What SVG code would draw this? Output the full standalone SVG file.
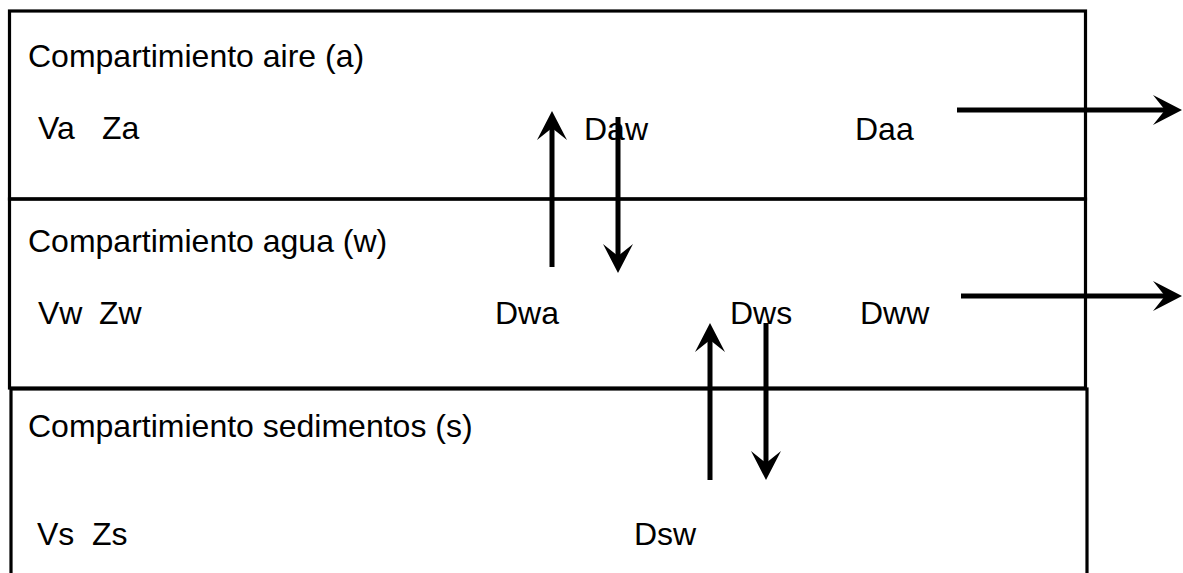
<svg xmlns="http://www.w3.org/2000/svg" width="1183" height="573" viewBox="0 0 1183 573">
  <style>
    .box { fill: none; stroke: #000; stroke-width: 3.2; }
    .lbl { font-family: "Liberation Sans", Arial, sans-serif; font-size: 32px; fill: #000; }
    .arr { stroke: #000; stroke-width: 5; fill: none; marker-end: url(#ah); }
  </style>
  <defs>
    <marker id="ah" markerUnits="userSpaceOnUse" markerWidth="40" markerHeight="40" viewBox="-20 -20 40 40" refX="0" refY="0" orient="auto" overflow="visible">
      <path d="M15,0 L-14,-15 L-2,0 L-14,15 Z" fill="#000"/>
    </marker>
  </defs>
  <rect width="1183" height="573" fill="#fff"/>

  <g id="air">
    <rect class="box" x="9.5" y="11" width="1076" height="188"/>
    <text class="lbl" x="28" y="67">Compartimiento aire (a)</text>
    <text class="lbl" x="38" y="139">Va</text>
    <text class="lbl" x="102" y="139">Za</text>
    <text class="lbl" x="584" y="140">Daw</text>
    <text class="lbl" x="855" y="140">Daa</text>
  </g>

  <g id="water">
    <rect class="box" x="9.5" y="199" width="1076" height="189"/>
    <text class="lbl" x="28" y="252">Compartimiento agua (w)</text>
    <text class="lbl" x="38" y="324">Vw</text>
    <text class="lbl" x="99" y="324">Zw</text>
    <text class="lbl" x="495" y="324">Dwa</text>
    <text class="lbl" x="730" y="324">Dws</text>
    <text class="lbl" x="860" y="324">Dww</text>
  </g>

  <g id="sediment">
    <rect class="box" x="11" y="389" width="1076" height="200"/>
    <text class="lbl" x="28" y="437">Compartimiento sedimentos (s)</text>
    <text class="lbl" x="37" y="545">Vs</text>
    <text class="lbl" x="92" y="545">Zs</text>
    <text class="lbl" x="634" y="545">Dsw</text>
  </g>

  <g id="connectors">
    <line class="arr" x1="957" y1="110" x2="1167" y2="110"/>
    <line class="arr" x1="961" y1="296" x2="1167" y2="296"/>
    <line class="arr" x1="552" y1="267" x2="552" y2="126"/>
    <line class="arr" x1="618" y1="117" x2="618" y2="258"/>
    <line class="arr" x1="710" y1="480" x2="710" y2="338"/>
    <line class="arr" x1="766" y1="323" x2="766" y2="465"/>
  </g>
</svg>
